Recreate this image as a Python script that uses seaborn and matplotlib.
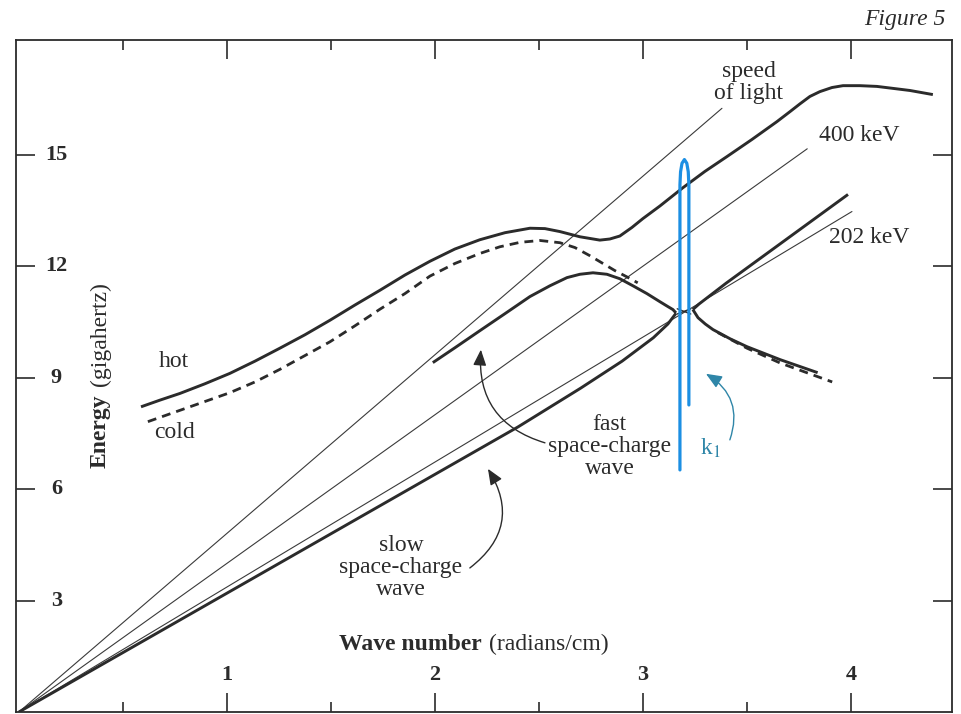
import matplotlib
matplotlib.use("Agg")
import matplotlib.pyplot as plt
from matplotlib.ticker import NullLocator
import seaborn as sns

# ---------------- data ----------------
# reference lines through the origin: wave number (rad/cm) -> energy (GHz)
light_k = [0.0, 3.38]
light_e = [0.0, 16.26]
kev400_k = [0.0, 3.79]
kev400_e = [0.0, 15.17]
kev202_k = [0.0, 4.005]
kev202_e = [0.0, 13.48]

# "hot" dispersion curve (solid)
hot_k = [0.587, 0.678, 0.774, 0.894, 1.014, 1.135, 1.255, 1.375, 1.495, 1.615,
         1.736, 1.856, 1.976, 2.096, 2.216, 2.337, 2.457, 2.529, 2.601, 2.697,
         2.793, 2.841, 2.889, 2.947, 3.000, 3.082, 3.192, 3.298, 3.404, 3.524,
         3.644, 3.707, 3.755, 3.803, 3.851, 3.909, 3.962, 4.043, 4.125, 4.212,
         4.284, 4.394]
hot_e = [8.22, 8.40, 8.58, 8.84, 9.12, 9.45, 9.80, 10.16, 10.55, 10.96,
         11.36, 11.77, 12.14, 12.47, 12.72, 12.91, 13.03, 13.02, 12.94, 12.80,
         12.71, 12.74, 12.82, 13.05, 13.29, 13.63, 14.12, 14.56, 14.96, 15.42,
         15.90, 16.17, 16.38, 16.58, 16.71, 16.82, 16.87, 16.87, 16.85, 16.79,
         16.74, 16.63]

# "cold" dispersion curve (dashed)
cold_k = [0.620, 0.726, 0.822, 0.918, 1.014, 1.135, 1.255, 1.375, 1.495, 1.615,
          1.736, 1.856, 1.976, 2.096, 2.216, 2.312, 2.409, 2.505, 2.601, 2.673,
          2.745, 2.817, 2.865, 2.923, 2.975]
cold_e = [7.82, 8.03, 8.22, 8.41, 8.60, 8.89, 9.23, 9.60, 9.97, 10.40,
          10.85, 11.27, 11.74, 12.08, 12.35, 12.53, 12.65, 12.70, 12.64, 12.51,
          12.29, 12.05, 11.89, 11.72, 11.56]
cold_tail_k = [3.36, 3.50, 3.66, 3.91]
cold_tail_e = [10.22, 9.80, 9.40, 8.89]

# fast space-charge wave (up to the left vertex of the crossing)
fast_k = [1.99, 2.096, 2.216, 2.337, 2.457, 2.553, 2.635, 2.697, 2.76, 2.827,
          2.889, 2.952, 3.019, 3.082, 3.12, 3.144, 3.159]
fast_e = [9.41, 9.81, 10.27, 10.73, 11.19, 11.48, 11.70, 11.79, 11.83, 11.79,
          11.67, 11.48, 11.27, 11.05, 10.92, 10.84, 10.75]

# slow space-charge wave (origin to the left vertex)
slow_k = [0.0, 1.0, 2.0, 2.4, 2.7, 2.9, 3.05, 3.12, 3.159]
slow_e = [0.0, 3.20, 6.40, 7.68, 8.72, 9.45, 10.08, 10.45, 10.74]

# branches to the right of the crossing
upper_k = [3.24, 3.27, 3.40, 3.986]
upper_e = [10.84, 10.99, 11.55, 13.94]
lower_k = [3.24, 3.265, 3.30, 3.337, 3.42, 3.50, 3.66, 3.84]
lower_e = [10.84, 10.62, 10.45, 10.30, 10.05, 9.84, 9.49, 9.14]

# little cross between the two vertices
cross1_k = [3.165, 3.23]
cross1_e = [10.86, 10.72]
cross2_k = [3.165, 3.23]
cross2_e = [10.72, 10.86]

# k1 marker (blue hairpin)
k1_k = [3.178, 3.178, 3.181, 3.188, 3.1995, 3.211, 3.218, 3.221, 3.221]
k1_e = [6.52, 14.20, 14.55, 14.78, 14.88, 14.78, 14.55, 14.20, 8.27]

# ticks
xtick_vals = [1, 2, 3, 4]
xtick_labels = ["1", "2", "3", "4"]
xminor_vals = [0.5, 1.5, 2.5, 3.5]
ytick_vals = [3, 6, 9, 12, 15]
ytick_labels = ["3", "6", "9", "12", "15"]

# ---------------- style ----------------
sns.set_theme(style="white")
plt.rcParams["font.family"] = ["Liberation Serif", "DejaVu Serif"]
plt.rcParams["mathtext.fontset"] = "stix"

INK = "#2b2b2b"
THIN = "#3a3a3a"
BLUE = "#1c8fe3"
TEAL = "#2f86a8"

fig = plt.figure(figsize=(9.61, 7.14), dpi=100)
fig.patch.set_facecolor("white")
ax = fig.add_axes([16 / 961, 2 / 714, 936 / 961, 672 / 714])
ax.set_facecolor("white")

def draw(k, e, **kw):
    base = dict(sort=False, estimator=None, ax=ax, legend=False)
    base.update(kw)
    sns.lineplot(x=k, y=e, **base)

# thin reference lines
for k, e in [(light_k, light_e), (kev400_k, kev400_e), (kev202_k, kev202_e)]:
    draw(k, e, color=THIN, linewidth=0.8)

# thick curves
thick = dict(color=INK, linewidth=2.1, solid_capstyle="butt", solid_joinstyle="round")
draw(hot_k, hot_e, **thick)
draw(fast_k, fast_e, **thick)
draw(slow_k, slow_e, **thick)
draw(upper_k, upper_e, **thick)
draw(lower_k, lower_e, **thick)
draw(cross1_k, cross1_e, color=INK, linewidth=1.0)
draw(cross2_k, cross2_e, color=INK, linewidth=1.0)

dash = dict(color=INK, linewidth=2.0, linestyle=(0, (3.2, 2.2)))
draw(cold_k, cold_e, **dash)
draw(cold_tail_k, cold_tail_e, **dash)

# blue k1 hairpin
draw(k1_k, k1_e, color=BLUE, linewidth=2.3, solid_joinstyle="round")

# ---------------- axes ----------------
ax.set_xlim(-0.014, 4.486)
ax.set_ylim(0, 18.1)
ax.set_xlabel("")
ax.set_ylabel("")
ax.set_xticks(xtick_vals)
ax.set_xticks(xminor_vals, minor=True)
ax.set_yticks(ytick_vals)
ax.yaxis.set_minor_locator(NullLocator())
ax.tick_params(which="both", direction="in", top=True, bottom=True, left=True,
               right=True, labelbottom=False, labelleft=False, color=INK, width=1.2)
ax.tick_params(which="major", length=14)
ax.tick_params(which="minor", length=7)
for s in ax.spines.values():
    s.set_visible(True)
    s.set_color(INK)
    s.set_linewidth(1.3)

# tick labels inside the frame
for v, lab in zip(xtick_vals, xtick_labels):
    ax.text(v, 1.0, lab, ha="center", va="center", fontsize=16,
            fontweight="bold", color=INK)
for v, lab in zip(ytick_vals, ytick_labels):
    ax.text(0.18, v, lab, ha="center", va="center", fontsize=16,
            fontweight="bold", color=INK)

# axis titles inside the frame
ax.text(2.225, 1.67, "Wave number", ha="right", va="baseline", fontsize=17,
        fontweight="bold", color=INK)
ax.text(2.258, 1.67, "(radians/cm)", ha="left", va="baseline", fontsize=17,
        color=INK)
ax.text(0.39, 6.58, "Energy", rotation=90, ha="center", va="bottom", fontsize=17,
        fontweight="bold", color=INK)
ax.text(0.39, 8.79, "(gigahertz)", rotation=90, ha="center", va="bottom",
        fontsize=17, color=INK)

# curve labels
txt = dict(fontsize=17, color=INK, ha="center", va="center", linespacing=1.07)
ax.text(0.746, 9.43, "hot", **txt)
ax.text(0.746, 7.52, "cold", **txt)
ax.text(3.51, 16.95, "speed\nof light", **txt)
ax.text(4.04, 15.53, "400 keV", **txt)
ax.text(4.086, 12.78, "202 keV", **txt)
ax.text(2.84, 7.15, "fast\nspace-charge\nwave", **txt)
ax.text(1.837, 3.9, "slow\nspace-charge\nwave", **txt)
ax.text(3.325, 7.1, r"k$_1$", fontsize=17, color=TEAL, ha="center", va="center")

# curved arrows
arrow = dict(arrowstyle="-|>,head_length=0.6,head_width=0.25", color=INK, lw=1.0,
             shrinkA=0, shrinkB=0, mutation_scale=16)
ax.annotate("", xy=(2.221, 9.76), xytext=(2.529, 7.25),
            arrowprops=dict(connectionstyle="arc3,rad=-0.4", **arrow))
ax.annotate("", xy=(2.255, 6.55), xytext=(2.168, 3.88),
            arrowprops=dict(connectionstyle="arc3,rad=0.45", **arrow))
arrow_t = dict(arrow)
arrow_t["color"] = TEAL
ax.annotate("", xy=(3.303, 9.11), xytext=(3.418, 7.33),
            arrowprops=dict(connectionstyle="arc3,rad=0.4", **arrow_t))

# figure caption
fig.text(945 / 961, 1 - 20 / 714, "Figure 5", ha="right", va="center", fontsize=17,
         style="italic", color=INK)

fig.savefig("out.png", dpi=100, facecolor="white")
